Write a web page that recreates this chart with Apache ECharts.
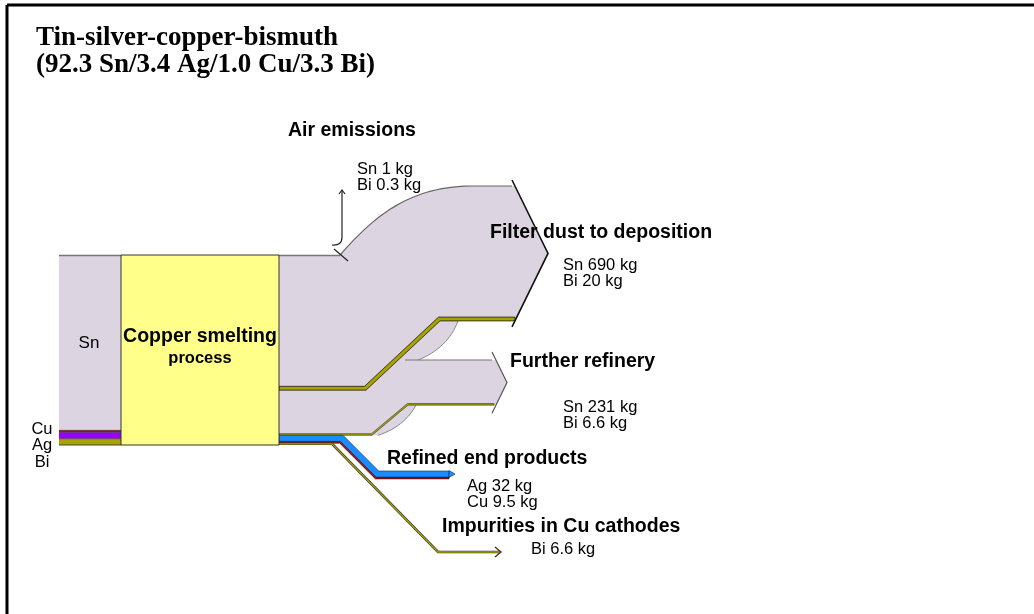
<!DOCTYPE html>
<html><head><meta charset="utf-8">
<script src="https://cdn.jsdelivr.net/npm/echarts@6/dist/echarts.min.js"></script>
<style>html,body{margin:0;padding:0;background:#fff}#c{width:1034px;height:614px}</style>
</head><body><div id="c"></div>
<script>
// ---------------- data ----------------
const titleLines = ['Tin-silver-copper-bismuth', '(92.3 Sn/3.4 Ag/1.0 Cu/3.3 Bi)'];
const inputNames = ['Sn', 'Cu', 'Ag', 'Bi'];
const inputKg = [923, 10, 34, 33];
const processLabel = ['Copper smelting', 'process'];
const outputNames = ['Air emissions', 'Filter dust to deposition', 'Further refinery', 'Refined end products', 'Impurities in Cu cathodes'];
const outSnKg = [1, 690, 231, 0, 0];
const outAgKg = [0, 0, 0, 32, 0];
const outCuKg = [0, 0, 0, 9.5, 0];
const outBiKg = [0.3, 20, 6.6, 0, 6.6];

// ---------------- layout (positions only) ----------------
const PX_PER_KG = 0.19;
const Y_MAX_KG = 614 / PX_PER_KG;
const LAY = {
  stockX0: 59, boxX0: 121, boxX1: 279, top: 255,
  filterOutTop: 186, refineryOutTop: 360, refinedOutTop: 471,
  nameAnchor: [[288, 131], [490, 233], [510, 362], [387, 459], [442, 527]],
  valueAnchor: [[357, 169], [563, 265], [563, 407], [467, 486], [531, 549]],
  lineGap: 16
};
const COL = {lav: '#DCD4E0', yellow: '#FFFF8A', olive: '#A8A300', purple: '#9A00FF',
  red: '#A01414', blue: '#1A8CFF', edge: '#6a6a6a', dark: '#1a1a1a'};

function offsetLine(pts, d) {
  const n = pts.length, segN = [], out = [];
  for (let i = 0; i < n - 1; i++) {
    const dx = pts[i + 1][0] - pts[i][0], dy = pts[i + 1][1] - pts[i][1];
    const l = Math.hypot(dx, dy);
    segN.push([-dy / l, dx / l]);
  }
  for (let i = 0; i < n; i++) {
    let nx, ny;
    if (i === 0) { nx = segN[0][0]; ny = segN[0][1]; }
    else if (i === n - 1) { nx = segN[n - 2][0]; ny = segN[n - 2][1]; }
    else {
      const a = segN[i - 1], b = segN[i];
      let mx = a[0] + b[0], my = a[1] + b[1];
      const ml = Math.hypot(mx, my); mx /= ml; my /= ml;
      const s = 1 / (mx * a[0] + my * a[1]);
      nx = mx * s; ny = my * s;
    }
    out.push([pts[i][0] + nx * d, pts[i][1] + ny * d]);
  }
  return out;
}
function band(pts, d0, d1) { return offsetLine(pts, d0).concat(offsetLine(pts, d1).reverse()); }
function cubic(p0, p1, p2, p3, n) {
  const r = [];
  for (let i = 0; i <= n; i++) {
    const t = i / n, u = 1 - t;
    r.push([u*u*u*p0[0] + 3*u*u*t*p1[0] + 3*u*t*t*p2[0] + t*t*t*p3[0],
            u*u*u*p0[1] + 3*u*u*t*p1[1] + 3*u*t*t*p2[1] + t*t*t*p3[1]]);
  }
  return r;
}
function quad(p0, c, p1, n) {
  const r = [];
  for (let i = 0; i <= n; i++) {
    const t = i / n, u = 1 - t;
    r.push([u*u*p0[0] + 2*u*t*c[0] + t*t*p1[0], u*u*p0[1] + 2*u*t*c[1] + t*t*p1[1]]);
  }
  return r;
}
function xOnLine(a, b, y) { return a[0] + (b[0] - a[0]) * (y - a[1]) / (b[1] - a[1]); }

function renderItem(params, api) {
  const k = api.size([0, 1])[1]; // px per kg from the y axis scale
  const T = LAY.top, X1 = LAY.boxX1;
  const els = [];
  const poly = (pts, fill, stroke, lw) => els.push({type: 'polygon', shape: {points: pts},
    style: {fill: fill, stroke: stroke || null, lineWidth: lw || 0}});
  const line = (pts, stroke, lw) => els.push({type: 'polyline', shape: {points: pts},
    style: {fill: null, stroke: stroke, lineWidth: lw}});

  // ---- source stack at box exit ----
  const tAir = (outSnKg[0] + outBiKg[0]) * k;
  const fSnB = T + tAir + outSnKg[1] * k;
  const fB = fSnB + outBiKg[1] * k;
  const rTop = fB;
  const rB = rTop + (outSnKg[2] + outBiKg[2]) * k;
  const aTop = rB;
  const tAg = outAgKg[3] * k, tCu = outCuKg[3] * k;
  const iTop = aTop + tAg + tCu;
  const tI = outBiKg[4] * k;

  // ---- filter dust flow ----
  const FT = LAY.filterOutTop;
  const FB = FT + (outSnKg[1] + outBiKg[1]) * k;
  const fTipA = [512, FT - 6], fTip = [548, (FT + FB) / 2], fTipB = [512, FB + 6];
  const RT = LAY.refineryOutTop;
  const RB = RT + (outSnKg[2] + outBiKg[2]) * k;
  const topCurve = cubic([340, T], [375, 215], [410, FT + 1], [470, FT], 30);
  const shadowF = quad([458, FB], [448, 348], [418, RT], 16);
  const filterPts = [[X1, T]].concat(topCurve, [[xOnLine(fTipA, fTip, FT), FT], fTip,
    [xOnLine(fTip, fTipB, FB), FB]], shadowF, [[398, RT], [366, fB], [X1, fB]]);
  poly(filterPts, COL.lav);

  // ---- further refinery flow ----
  const rTipA = [492, RT - 8], rTip = [507, (RT + RB) / 2], rTipB = [492, RB + 8];
  const shadowR = quad([416, RB], [404, 427], [378, rB], 14);
  const refPts = [[X1, rTop], [366, rTop], [398, RT], [xOnLine(rTipA, rTip, RT), RT], rTip,
    [xOnLine(rTip, rTipB, RB), RB]].concat(shadowR, [[X1, rB]]);
  poly(refPts, COL.lav);

  // edges of lavender flows
  line([[X1, T + 0.5], [340, T + 0.5]], '#777', 1.5);
  line(topCurve, '#666', 1.2);
  line([[470, FT], [512, FT]], '#666', 1.2);
  line(shadowF, '#888', 1);
  line([[405, RT], [492, RT]], '#777', 1.2);
  line(shadowR, '#888', 1);

  // ---- Bi bands (olive) ----
  const fBiPath = [[X1, fB], [366, fB], [440, FB], [515, FB]];
  const tBiF = Math.max(outBiKg[1] * k, 1);
  poly(band(fBiPath, -tBiF, 0), COL.olive, COL.dark, 0.8);
  const rBiPath = [[X1, rB], [372, rB], [408, RB], [494, RB]];
  const tBiR = Math.max(outBiKg[2] * k, 1.6);
  poly(band(rBiPath, -tBiR, 0), COL.olive, '#333', 0.6);

  // ---- refined end products (Ag blue, Cu red) ----
  const AT = LAY.refinedOutTop;
  const aPath = [[X1, aTop], [343, aTop], [343 + (AT - aTop), AT], [449, AT]];
  poly(band(aPath, tAg, tAg + tCu), COL.red, '#3a0000', 0.6);
  poly(band(aPath, 0, tAg), COL.blue, '#0a2a55', 0.6);
  poly([[449, AT - 0.5], [455, AT + tAg / 2], [449, AT + tAg + 0.5]], COL.blue, '#0a2a55', 0.6);

  // ---- impurities in Cu cathodes ----
  const iy = iTop + tI / 2;
  const iPath = [[X1, iy], [332, iy], [438, 552], [500, 552]];
  line(iPath, '#333', 2.6);
  line(iPath, COL.olive, Math.max(tI, 1.3));
  line([[495, 547], [501, 552], [495, 557]], '#333', 1.3);

  // ---- arrow heads of the big flows ----
  line([fTipA, fTip, fTipB], '#111', 1.6);
  line([rTipA, rTip, rTipB], '#555', 1.2);

  // ---- air emissions ----
  els.push({type: 'path', shape: {pathData: 'M332,245 Q342,246 342,237 L342,191'},
    style: {fill: null, stroke: '#222', lineWidth: 1.2}});
  line([[339, 194], [342, 190], [345, 194]], '#222', 1.2);
  line([[334, 249], [348, 261]], '#222', 1.2);

  // ---- stock of inputs ----
  const hIn = inputKg.map(v => v * k);
  let y = T;
  const inCols = [COL.lav, COL.red, COL.purple, COL.olive];
  const inY = [];
  for (let i = 0; i < hIn.length; i++) { inY.push(y); y += hIn[i]; }
  const inB = y;
  for (let i = 0; i < hIn.length; i++) {
    els.push({type: 'rect', shape: {x: LAY.stockX0, y: inY[i], width: LAY.boxX0 - LAY.stockX0, height: hIn[i]},
      style: {fill: inCols[i]}});
  }
  for (let i = 1; i < hIn.length; i++) line([[LAY.stockX0, inY[i]], [LAY.boxX0, inY[i]]], '#333', 0.6);
  line([[LAY.stockX0, T + 0.5], [LAY.boxX0, T + 0.5]], '#777', 1.5);
  line([[LAY.stockX0, inB], [LAY.boxX0, inB]], '#444', 1);

  // ---- process box ----
  els.push({type: 'rect', shape: {x: LAY.boxX0, y: T, width: X1 - LAY.boxX0, height: inB - T},
    style: {fill: COL.yellow, stroke: '#333', lineWidth: 1}});

  return {type: 'group', children: els};
}

// ---------------- labels ----------------
const FONT = '"Liberation Sans", Arial, sans-serif';
const SERIF = '"Liberation Serif", "Times New Roman", serif';
const graphics = [];
function txt(s, x, y, size, bold, align, family) {
  graphics.push({type: 'text', z: 100, style: {text: s, x: x, y: y, fill: '#000',
    fontSize: size, fontWeight: bold ? 'bold' : 'normal', fontFamily: family || FONT,
    align: align || 'left', verticalAlign: 'middle', textAlign: align || 'left', textVerticalAlign: 'middle'}});
}
// frame
graphics.push({type: 'line', z: 100, shape: {x1: 7, y1: 5, x2: 1034, y2: 5}, style: {stroke: '#000', lineWidth: 3}});
graphics.push({type: 'line', z: 100, shape: {x1: 7, y1: 5, x2: 7, y2: 614}, style: {stroke: '#000', lineWidth: 3}});
// title
txt(titleLines[0], 36, 38, 27, true, 'left', SERIF);
txt(titleLines[1], 36, 65, 27, true, 'left', SERIF);
// inputs
txt(inputNames[0], 89, 343, 17, false, 'center');
for (let i = 1; i < inputNames.length; i++) txt(inputNames[i], 42, 429 + (i - 1) * 16.5, 16.5, false, 'center');
// process
txt(processLabel[0], 200, 337, 19.5, true, 'center');
txt(processLabel[1], 200, 358, 16.5, true, 'center');
// outputs
const elemSeries = [['Sn', outSnKg], ['Ag', outAgKg], ['Cu', outCuKg], ['Bi', outBiKg]];
outputNames.forEach((name, i) => {
  txt(name, LAY.nameAnchor[i][0], LAY.nameAnchor[i][1], 19.5, true, 'left');
  const lines = elemSeries.filter(e => e[1][i] > 0).map(e => e[0] + ' ' + e[1][i] + ' kg');
  lines.forEach((s, j) => txt(s, LAY.valueAnchor[i][0], LAY.valueAnchor[i][1] + j * LAY.lineGap, 16.5, false, 'left'));
});

const chart = echarts.init(document.getElementById('c'));
chart.setOption({
  animation: false,
  backgroundColor: '#fff',
  grid: {left: 0, right: 0, top: 0, bottom: 0},
  xAxis: {type: 'value', min: 0, max: 1034, show: false},
  yAxis: {type: 'value', min: 0, max: Y_MAX_KG, inverse: true, show: false},
  series: [{type: 'custom', coordinateSystem: 'cartesian2d', renderItem: renderItem,
    data: [[0, 0]], silent: true, clip: false}],
  graphic: graphics
});
</script>
</body></html>
